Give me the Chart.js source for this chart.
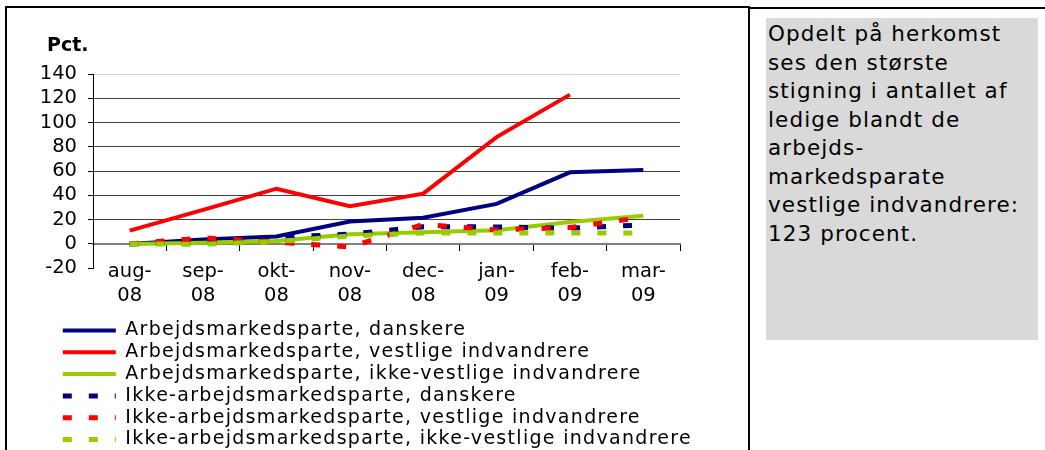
<!DOCTYPE html>
<html>
<head>
<meta charset="utf-8">
<script src="https://cdn.jsdelivr.net/npm/chart.js@4.4.1/dist/chart.umd.min.js"></script>
<style>
    body { margin: 0; width: 1045px; height: 450px; overflow: hidden; background: #fff; font-family: 'DejaVu Sans', sans-serif; }
    #frame { position: absolute; left: 5px; top: 6px; width: 741px; height: 470px; border: 2px solid #000; border-bottom: none; }
    #topline { position: absolute; left: 750px; top: 7px; width: 295px; height: 0; border-top: 2px solid #000; }
    #wrap { position: absolute; left: 7px; top: 9px; width: 740px; height: 450px; }
    #note {
        position: absolute; left: 766px; top: 18px; width: 272px; height: 322px;
        box-sizing: border-box; padding: 2px 0 0 2px; background: #d9d9d9; color: #000;
        font-size: 21.5px; line-height: 28.5px; letter-spacing: 1.1px; white-space: nowrap;
    }
</style>
</head>
<body>
<div id="frame"></div>
<div id="topline"></div>
<div id="wrap"><canvas id="chart" width="740" height="450"></canvas></div>
<div id="note">Opdelt på herkomst<br>ses den største<br>stigning i antallet af<br>ledige blandt de<br>arbejds-<br>markedsparate<br>vestlige indvandrere:<br>123 procent.</div>
<script>
// Months (two-line tick labels)
const months = [['aug-', '08'], ['sep-', '08'], ['okt-', '08'], ['nov-', '08'],
    ['dec-', '08'], ['jan-', '09'], ['feb-', '09'], ['mar-', '09']];

const seriesNames = [
    'Arbejdsmarkedsparte, danskere',
    'Arbejdsmarkedsparte, vestlige indvandrere',
    'Arbejdsmarkedsparte, ikke-vestlige indvandrere',
    'Ikke-arbejdsmarkedsparte, danskere',
    'Ikke-arbejdsmarkedsparte, vestlige indvandrere',
    'Ikke-arbejdsmarkedsparte, ikke-vestlige indvandrere',
];

// Pct. change since aug-08
const arbDanskere = [0, 3.7, 6.2, 18.5, 21.6, 33, 59, 61];
const arbVestlige = [11, 28, 45.5, 31, 41.4, 88, 123, null];
const arbIkkeVestlige = [0, 1, 2.5, 8, 9.7, 11.2, 18, 23.3];
const ikkeArbDanskere = [0, 2, 5.5, 8, 14.2, 14, 13, 15.6];
const ikkeArbVestlige = [0, 5, 1.5, -2.5, 16, 11.5, 13.5, 22];
const ikkeArbIkkeVestlige = [0, -0.3, 2, 6.5, 9, 9, 9, 9];

const yMin = -20;
const yMax = 140;
const yStep = 20;

const navy = '#000080';
const red = '#ff0000';
const green = '#99cc00';

function solid(label, data, color, order) {
    return {
        label, data, order,
        borderColor: color, backgroundColor: color,
        borderWidth: 4, pointRadius: 0, tension: 0, fill: false,
    };
}

function dashed(label, data, color, order) {
    return {
        label, data, order,
        borderColor: color, backgroundColor: color,
        borderWidth: 5, borderDash: [9, 17], pointRadius: 0, tension: 0, fill: false,
    };
}

// nudge title and legend to the right, and space out the legend text a little
const shiftBoxes = {
    id: 'shiftBoxes',
    afterLayout(chart) {
        chart.titleBlock.left += 12;
        chart.titleBlock.right += 12;
        const legend = chart.legend;
        legend.left += 25;
        legend.right += 70;
        if (!legend._spaced) {
            const draw = legend.draw;
            legend.draw = function () {
                this.ctx.save();
                this.ctx.letterSpacing = '1.3px';
                draw.call(this);
                this.ctx.restore();
            };
            legend._spaced = true;
        }
    },
};

Chart.defaults.font.family = "'DejaVu Sans', sans-serif";
Chart.defaults.color = '#000';

new Chart(document.getElementById('chart'), {
    type: 'line',
    data: {
        labels: months,
        datasets: [
            solid(seriesNames[0], arbDanskere, navy, 6),
            solid(seriesNames[1], arbVestlige, red, 5),
            solid(seriesNames[2], arbIkkeVestlige, green, 4),
            dashed(seriesNames[3], ikkeArbDanskere, navy, 3),
            dashed(seriesNames[4], ikkeArbVestlige, red, 2),
            dashed(seriesNames[5], ikkeArbIkkeVestlige, green, 1),
        ],
    },
    options: {
        responsive: false,
        animation: false,
        layout: { padding: { left: 28, right: 67, top: 0, bottom: 0 } },
        plugins: {
            tooltip: { enabled: false },
            title: {
                display: true,
                text: 'Pct.',
                align: 'start',
                font: { size: 19, weight: 'bold', lineHeight: 1.2 },
                padding: { top: 25.3, bottom: 16.9 },
            },
            legend: {
                position: 'bottom',
                align: 'start',
                labels: {
                    usePointStyle: true,
                    pointStyle: 'line',
                    pointStyleWidth: 53,
                    padding: 2.8,
                    font: { size: 19 },
                    sort: (a, b) => a.datasetIndex - b.datasetIndex,
                    generateLabels: (chart) => {
                        const items = Chart.defaults.plugins.legend.labels.generateLabels(chart);
                        items.forEach((item) => {
                            const ds = chart.data.datasets[item.datasetIndex];
                            item.lineDash = ds.borderDash || [];
                            item.lineWidth = ds.borderWidth;
                            item.strokeStyle = ds.borderColor;
                        });
                        return items;
                    },
                },
            },
        },
        scales: {
            x: {
                offset: true,
                grid: { display: false, drawTicks: false },
                border: { display: false },
                ticks: {
                    // mirror only to avoid the label clipping; padding pushes them back below
                    mirror: true,
                    padding: -15.3,
                    maxRotation: 0,
                    autoSkip: false,
                    font: { size: 19.5, lineHeight: 1.23 },
                },
                afterFit: (s) => { s.height = 50; },
            },
            x2: {
                type: 'category',
                position: { y: 0 },
                offset: true,
                grid: { offset: true, drawOnChartArea: false, drawTicks: true, tickLength: 6, tickColor: '#000', color: '#000' },
                border: { color: '#808080', width: 2 },
                ticks: { display: false },
            },
            y: {
                min: yMin,
                max: yMax,
                ticks: { stepSize: yStep, autoSkip: false, padding: 11, font: { size: 19.5 } },
                grid: {
                    tickLength: 5,
                    tickColor: '#000',
                    color: (ctx) => {
                        const v = ctx.tick ? ctx.tick.value : null;
                        if (v === yMax) return '#d4d4d4';
                        if (v === yMin) return 'rgba(0,0,0,0)';
                        if (v === 0) return '#808080';
                        return '#404040';
                    },
                },
                border: { color: '#000', width: 1 },
                afterFit: (s) => { s.width = 58; },
            },
        },
    },
    plugins: [shiftBoxes],
});
</script>
</body>
</html>
